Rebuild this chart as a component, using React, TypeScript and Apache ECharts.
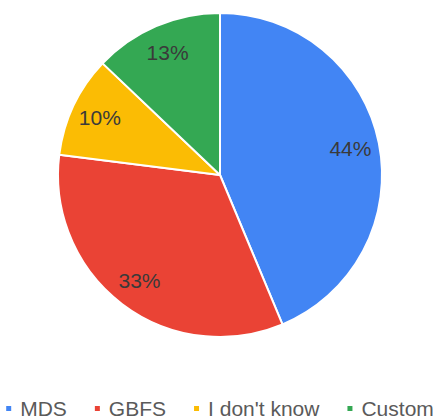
import React, { useEffect, useRef } from "react";
import * as echarts from "echarts";

const categories = ["MDS", "GBFS", "I don't know", "Custom"];
const values = [43.7, 33.3, 10.1, 12.9];
const colors = ["#4285F4", "#EA4335", "#FBBC04", "#34A853"];

export default function App() {
  const ref = useRef<HTMLDivElement>(null);
  useEffect(() => {
    if (!ref.current) return;
    const chart = echarts.init(ref.current, null, { renderer: "svg" });
    const data = categories.map((name, i) => ({ name, value: values[i] }));
    chart.setOption({
      animation: false,
      color: colors,
      legend: {
        top: 398,
        left: "center",
        padding: 0,
        icon: "rect",
        itemWidth: 7,
        itemHeight: 7,
        itemGap: 26,
        data: categories,
        textStyle: {
          fontFamily: "Liberation Sans, Arial, sans-serif",
          fontSize: 21,
          color: "#5a5a5a",
          padding: [0, 0, 0, 3],
        },
      },
      series: [
        {
          type: "pie",
          center: [220, 175],
          radius: [0, 162],
          startAngle: 90,
          clockwise: true,
          itemStyle: { borderColor: "#fff", borderWidth: 2 },
          label: { show: false },
          labelLine: { show: false },
          emphasis: { disabled: true },
          data,
        },
        {
          type: "pie",
          center: [220, 175],
          radius: [98, 162],
          startAngle: 90,
          clockwise: true,
          silent: true,
          itemStyle: { color: "transparent", borderWidth: 0 },
          label: {
            show: true,
            position: "inside",
            formatter: (p: any) => Math.round(p.percent) + "%",
            fontFamily: "Liberation Sans, Arial, sans-serif",
            fontSize: 21,
            color: "#3a3a3a",
          },
          labelLine: { show: false },
          emphasis: { disabled: true },
          data,
        },
      ],
    });
    return () => chart.dispose();
  }, []);
  return (
    <div
      ref={ref}
      style={{ position: "absolute", left: 0, top: 0, width: 438, height: 419 }}
    />
  );
}
